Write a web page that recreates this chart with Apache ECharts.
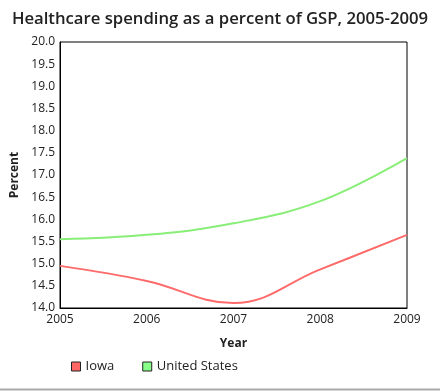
<!DOCTYPE html>
<html>
<head>
<meta charset="utf-8">
<script src="https://cdn.jsdelivr.net/npm/echarts@6/dist/echarts.min.js"></script>
<style>html,body{margin:0;padding:0;background:#fff}#c{width:440px;height:391px}</style>
</head>
<body>
<div id="c"></div>
<script>
var years = ['2005', '2006', '2007', '2008', '2009'];
var iowa = [14.95, 14.61, 14.11, 14.87, 15.65];
var unitedStates = [15.55, 15.65, 15.91, 16.41, 17.38];
var yTicks = { min: 14, max: 20, interval: 0.5 };

var chart = echarts.init(document.getElementById('c'));
var font = '"Open Sans", sans-serif';
chart.setOption({
  animation: false,
  title: {
    text: 'Healthcare spending as a percent of GSP, 2005-2009',
    left: 'center', top: 6,
    textStyle: { fontFamily: font, fontSize: 16.7, fontWeight: 600, color: '#222' }
  },
  legend: {
    left: 66, top: 355,
    itemWidth: 9, itemHeight: 9, itemGap: 28,
    icon: 'rect',
    textStyle: { fontFamily: font, fontSize: 13, color: '#222' },
    data: [
      { name: 'Iowa', itemStyle: { color: '#ff6666', borderColor: '#222', borderWidth: 1 } },
      { name: 'United States', itemStyle: { color: '#88ff88', borderColor: '#222', borderWidth: 1 } }
    ]
  },
  grid: { left: 60, right: 33, top: 42, bottom: 83, show: true, borderColor: '#000', borderWidth: 1 },
  xAxis: {
    type: 'category', data: years, boundaryGap: false,
    name: 'Year', nameLocation: 'middle', nameGap: 30,
    nameTextStyle: { fontFamily: font, fontSize: 12, fontWeight: 'bold', color: '#222' },
    axisLine: { lineStyle: { color: '#000' } },
    axisTick: { show: false },
    axisLabel: { fontFamily: font, fontSize: 12, color: '#222', margin: 6 },
    splitLine: { show: false }
  },
  yAxis: {
    type: 'value', min: yTicks.min, max: yTicks.max, interval: yTicks.interval,
    name: 'Percent', nameLocation: 'middle', nameGap: 38,
    nameTextStyle: { fontFamily: font, fontSize: 12, fontWeight: 'bold', color: '#222' },
    axisLine: { show: true, lineStyle: { color: '#000' } },
    axisTick: { show: false },
    axisLabel: { fontFamily: font, fontSize: 12, color: '#222', margin: 5, formatter: function (v) { return v.toFixed(1); } },
    splitLine: { show: false }
  },
  series: [
    { name: 'Iowa', type: 'line', data: iowa, smooth: 0.4, showSymbol: false, symbol: 'none',
      lineStyle: { color: '#ff6b6b', width: 2 }, itemStyle: { color: '#ff6666' } },
    { name: 'United States', type: 'line', data: unitedStates, smooth: 0.4, showSymbol: false, symbol: 'none',
      lineStyle: { color: '#88ee77', width: 2 }, itemStyle: { color: '#88ff88' } }
  ],
  graphic: [
    { type: 'line', shape: { x1: 0, y1: 389.5, x2: 440, y2: 389.5 }, style: { stroke: '#aaaaaa', lineWidth: 2 } }
  ]
});
</script>
</body>
</html>
